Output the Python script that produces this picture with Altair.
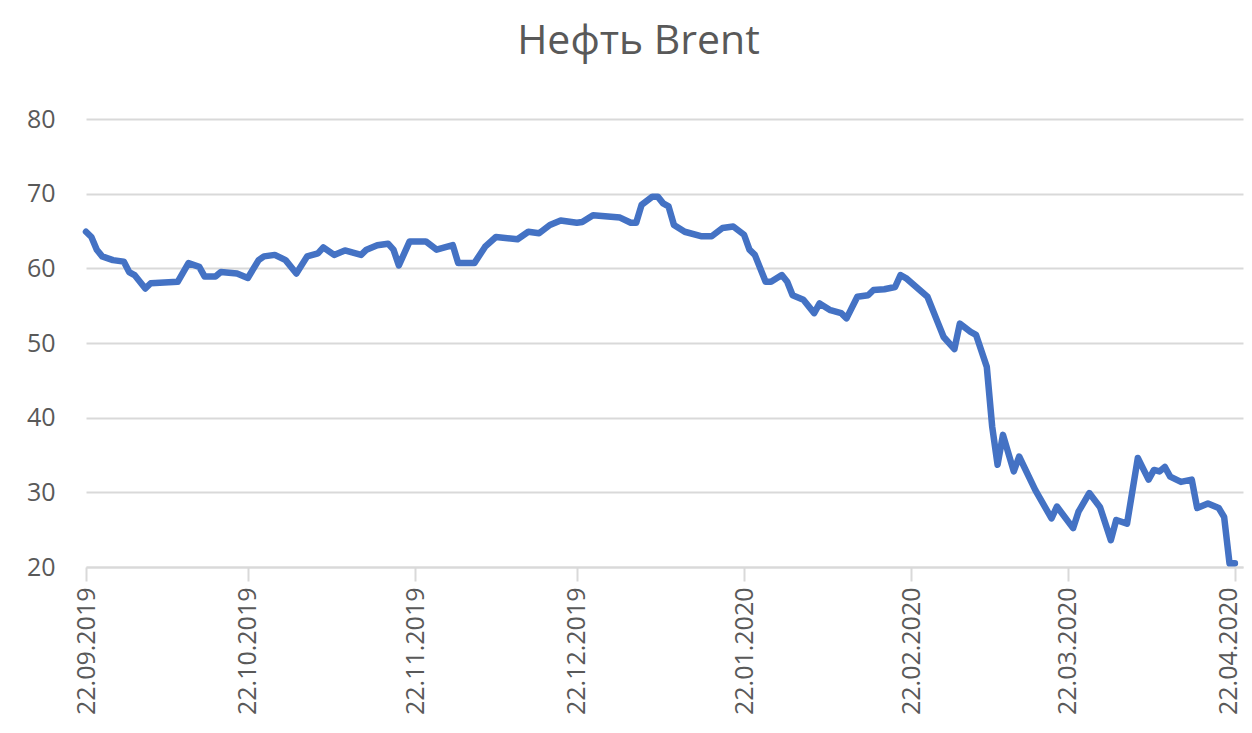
import altair as alt
import pandas as pd

dates = ["2019-09-22","2019-09-23","2019-09-24","2019-09-25","2019-09-27","2019-09-29","2019-09-30",
 "2019-10-01","2019-10-03","2019-10-04","2019-10-09","2019-10-11","2019-10-13","2019-10-14","2019-10-16","2019-10-17","2019-10-20","2019-10-22","2019-10-24","2019-10-25","2019-10-27","2019-10-29","2019-10-31",
 "2019-11-02","2019-11-04","2019-11-05","2019-11-07","2019-11-09","2019-11-12","2019-11-13","2019-11-15","2019-11-17","2019-11-18","2019-11-19","2019-11-21","2019-11-24","2019-11-26","2019-11-29","2019-11-30",
 "2019-12-03","2019-12-05","2019-12-07","2019-12-11","2019-12-13","2019-12-15","2019-12-17","2019-12-19","2019-12-22","2019-12-23","2019-12-25","2019-12-30",
 "2020-01-01","2020-01-02","2020-01-03","2020-01-05","2020-01-06","2020-01-07","2020-01-08","2020-01-09","2020-01-11","2020-01-14","2020-01-16","2020-01-18","2020-01-20","2020-01-22","2020-01-23","2020-01-24","2020-01-26","2020-01-27","2020-01-29","2020-01-30","2020-01-31",
 "2020-02-02","2020-02-04","2020-02-05","2020-02-07","2020-02-09","2020-02-10","2020-02-12","2020-02-14","2020-02-15","2020-02-17","2020-02-19","2020-02-20","2020-02-21","2020-02-25","2020-02-27","2020-02-28",
 "2020-03-01","2020-03-02","2020-03-04","2020-03-05","2020-03-07","2020-03-08","2020-03-09","2020-03-10","2020-03-12","2020-03-13","2020-03-16","2020-03-19","2020-03-20","2020-03-23","2020-03-24","2020-03-26","2020-03-28","2020-03-30","2020-03-31",
 "2020-04-02","2020-04-04","2020-04-06","2020-04-07","2020-04-08","2020-04-09","2020-04-10","2020-04-12","2020-04-14","2020-04-15","2020-04-17","2020-04-19","2020-04-20","2020-04-21","2020-04-22"]

prices = [64.9,64.2,62.5,61.6,61.1,60.9,59.5,
 59.1,57.3,58.0,58.2,60.7,60.2,58.9,58.9,59.5,59.3,58.7,61.1,61.6,61.8,61.1,59.3,
 61.6,62.0,62.8,61.8,62.4,61.8,62.5,63.1,63.3,62.5,60.4,63.6,63.6,62.5,63.1,60.7,
 60.7,62.9,64.2,63.9,64.9,64.7,65.8,66.4,66.1,66.2,67.1,66.8,
 66.1,66.1,68.5,69.6,69.6,68.7,68.3,65.8,64.9,64.3,64.3,65.4,65.6,64.5,62.5,61.8,58.2,58.2,59.1,58.2,56.4,
 55.8,54.0,55.3,54.4,54.0,53.3,56.2,56.4,57.1,57.2,57.5,59.1,58.7,56.2,52.6,50.8,
 49.2,52.6,51.5,51.1,46.8,38.8,33.7,37.7,32.8,34.8,30.3,26.5,28.1,25.2,27.4,29.9,28.0,23.6,26.3,
 25.8,34.6,31.7,33.0,32.8,33.4,32.1,31.4,31.7,27.9,28.5,27.9,26.7,20.5,20.5]

tick_dates = [(2019, 9), (2019, 10), (2019, 11), (2019, 12), (2020, 1), (2020, 2), (2020, 3), (2020, 4)]
y_ticks = [20, 30, 40, 50, 60, 70, 80]
title_text = "Нефть Brent"

df = pd.DataFrame({"date": pd.to_datetime(dates), "price": prices})

FONT = "Open Sans"
GREY = "#595959"

chart = alt.Chart(df).mark_line(color="#4472C4", strokeWidth=6.5, strokeJoin="round", strokeCap="round").encode(
    x=alt.X("date:T",
            scale=alt.Scale(domain=[alt.DateTime(year=2019, month=9, date=22),
                                    alt.DateTime(year=2020, month=4, date=23, hours=12)]),
            axis=alt.Axis(values=[alt.DateTime(year=y, month=m, date=22) for y, m in tick_dates],
                          format="%d.%m.%Y", labelAngle=-90, grid=False,
                          domainColor="#D9D9D9", domainWidth=2,
                          tickColor="#D9D9D9", tickWidth=2, tickSize=14,
                          labelOffset={"condition": {"test": "datum.value > datetime(2020, 3, 1)", "value": -6},
                                       "value": 0},
                          labelPadding=6, labelFontSize=25, labelColor=GREY, labelFont=FONT,
                          title=None)),
    y=alt.Y("price:Q",
            scale=alt.Scale(domain=[20, 80], nice=False, zero=False),
            axis=alt.Axis(values=y_ticks, grid=True, gridColor="#D9D9D9", gridWidth=2,
                          domain=False, ticks=False, labelPadding=31,
                          labelFontSize=25, labelColor=GREY, labelFont=FONT, title=None)),
).properties(
    width=1157, height=448,
    title=alt.TitleParams(title_text, fontSize=41, font=FONT, color=GREY, fontWeight="normal",
                          anchor="middle", dx=-26, offset=44),
    padding={"left": 78, "top": 111, "right": 1, "bottom": 154},
    autosize=alt.AutoSizeParams(type="none"),
).configure_view(stroke=None)

chart.save("out.html", embed_options={"renderer": "svg", "actions": False})
